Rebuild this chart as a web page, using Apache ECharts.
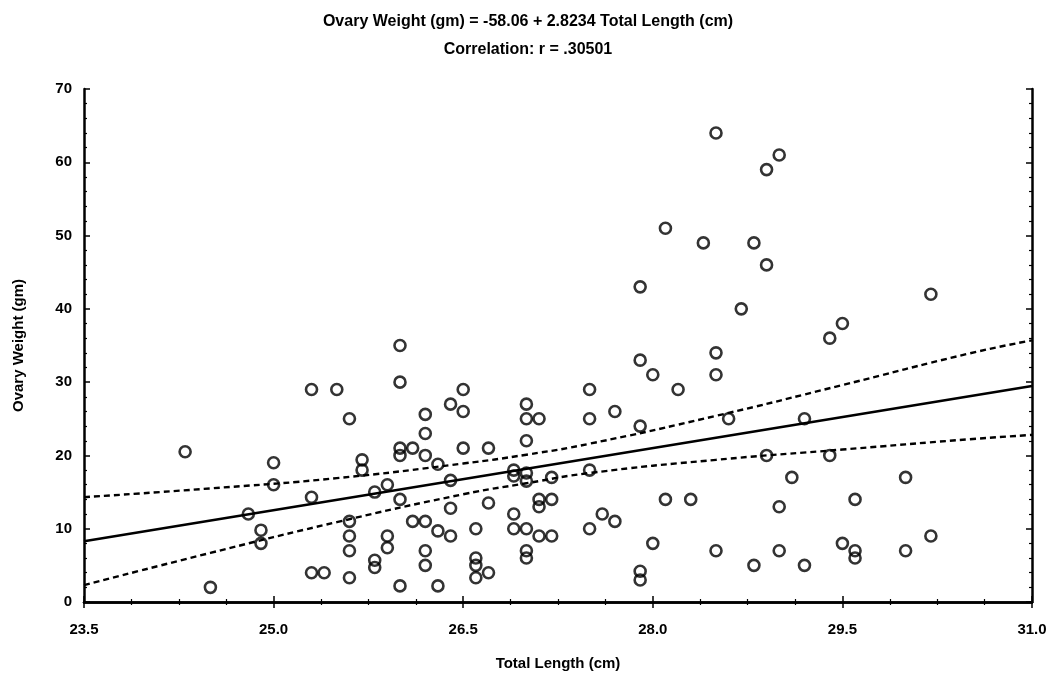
<!DOCTYPE html>
<html>
<head>
<meta charset="utf-8">
<script src="https://cdn.jsdelivr.net/npm/echarts@6/dist/echarts.min.js"></script>
<style>
  html, body { margin: 0; padding: 0; background: #fff; }
  #chart { width: 1056px; height: 679px; }
</style>
</head>
<body>
<div id="chart"></div>
<script>
// observed fish: total length (cm) and ovary weight (gm)
const totalLength = [
  24.3, 24.5, 24.8, 24.9, 24.9, 25.0, 25.0, 25.3, 25.3, 25.3, 25.4, 25.5,
  25.6, 25.6, 25.6, 25.6, 25.6, 25.7, 25.7, 25.8, 25.8, 25.8, 25.9, 25.9, 25.9,
  26.0, 26.0, 26.0, 26.0, 26.0, 26.0, 26.1, 26.1, 26.2, 26.2, 26.2, 26.2, 26.2, 26.2,
  26.3, 26.3, 26.3, 26.4, 26.4, 26.4, 26.4, 26.5, 26.5, 26.5,
  26.6, 26.6, 26.6, 26.6, 26.7, 26.7, 26.7, 26.9, 26.9, 26.9, 26.9,
  27.0, 27.0, 27.0, 27.0, 27.0, 27.0, 27.0, 27.0, 27.1, 27.1, 27.1, 27.1,
  27.2, 27.2, 27.2, 27.5, 27.5, 27.5, 27.5, 27.6, 27.7, 27.7,
  27.9, 27.9, 27.9, 27.9, 27.9, 28.0, 28.0, 28.1, 28.1, 28.2, 28.3, 28.4,
  28.5, 28.5, 28.5, 28.5, 28.6, 28.7, 28.8, 28.8, 28.9, 28.9, 28.9,
  29.0, 29.0, 29.0, 29.1, 29.2, 29.2, 29.4, 29.4, 29.5, 29.5,
  29.6, 29.6, 29.6, 30.0, 30.0, 30.2, 30.2
];
const ovaryWeight = [
  20.5, 2, 12, 9.8, 8, 19, 16, 29, 14.3, 4, 4, 29,
  25, 11, 9, 7, 3.3, 19.4, 18, 15, 5.7, 4.7, 9, 7.4, 16,
  35, 30, 21, 20, 14, 2.2, 21, 11, 25.6, 23, 20, 11, 7, 5,
  18.8, 9.7, 2.2, 27, 16.6, 12.8, 9, 29, 26, 21,
  10, 6, 5, 3.3, 21, 13.5, 4, 18, 17.2, 12, 10,
  27, 25, 22, 17.6, 16.5, 10, 7, 6, 25, 14, 13, 9,
  17, 14, 9, 29, 25, 18, 10, 12, 26, 11,
  43, 33, 24, 4.2, 3, 31, 8, 51, 14, 29, 14, 49,
  64, 34, 31, 7, 25, 40, 49, 5, 59, 46, 20,
  61, 13, 7, 17, 25, 5, 36, 20, 38, 8,
  14, 7, 6, 17, 7, 42, 9
];

// fitted line: Ovary Weight = -58.06 + 2.8234 * Total Length
const fitX = [23.5, 31.0];
const fitY = [8.29, 29.47];

// 95% confidence band
const bandX = [23.5, 24.5, 25.5, 26.5, 27.0, 27.5, 28.5, 29.5, 30.5, 31.0];
const bandUpper = [14.3, 15.5, 16.9, 18.9, 20.1, 21.6, 25.4, 29.6, 33.9, 35.7];
const bandLower = [2.3, 6.7, 10.9, 14.7, 16.2, 17.6, 19.4, 20.8, 22.2, 22.8];

const titleLines = [
  "Ovary Weight (gm) = -58.06 + 2.8234 Total Length (cm)",
  "Correlation: r = .30501"
];

const font = "'Liberation Sans', Arial, sans-serif";
const pair = (xs, ys) => xs.map((x, i) => [x, ys[i]]);

const chart = echarts.init(document.getElementById("chart"), null, { renderer: "canvas" });

const axisLine = { show: true, lineStyle: { color: "#000", width: 2.5 } };
const tickIn = { show: true, inside: true, length: 6, lineStyle: { color: "#000", width: 1.5 } };
const minorIn = { show: true, length: 3, lineStyle: { color: "#000", width: 1.2 } };

chart.setOption({
  animation: false,
  backgroundColor: "#fff",
  textStyle: { fontFamily: font, color: "#000" },
  title: [
    {
      left: "center",
      top: 9,
      text: titleLines[0],
      textStyle: { fontFamily: font, fontSize: 16, fontWeight: "bold", color: "#000" }
    },
    {
      left: "center",
      top: 37,
      text: titleLines[1],
      textStyle: { fontFamily: font, fontSize: 16, fontWeight: "bold", color: "#000" }
    }
  ],
  grid: { left: 84, right: 24, top: 89, bottom: 77 },
  xAxis: [
    {
      type: "value",
      min: 23.5,
      max: 31.0,
      interval: 1.5,
      name: "Total Length (cm)",
      nameLocation: "middle",
      nameGap: 54,
      nameTextStyle: { fontFamily: font, fontSize: 15, fontWeight: "bold", color: "#000" },
      axisLine: axisLine,
      axisTick: tickIn,
      minorTick: Object.assign({ splitNumber: 4 }, minorIn),
      splitLine: { show: false },
      axisLabel: {
        color: "#000",
        fontSize: 15,
        fontWeight: "bold",
        margin: 20,
        formatter: (v) => v.toFixed(1)
      }
    },
    {
      type: "value",
      position: "top",
      min: 23.5,
      max: 31.0,
      interval: 1.5,
      axisLine: axisLine,
      axisTick: tickIn,
      minorTick: Object.assign({ splitNumber: 4 }, minorIn),
      splitLine: { show: false },
      axisLabel: { show: false }
    }
  ],
  yAxis: [
    {
      type: "value",
      min: 0,
      max: 70,
      interval: 10,
      name: "Ovary Weight (gm)",
      nameLocation: "middle",
      nameGap: 58,
      nameTextStyle: { fontFamily: font, fontSize: 15, fontWeight: "bold", color: "#000" },
      axisLine: axisLine,
      axisTick: tickIn,
      minorTick: Object.assign({ splitNumber: 5 }, minorIn),
      splitLine: { show: false },
      axisLabel: { color: "#000", fontSize: 15, fontWeight: "bold", margin: 12 }
    },
    {
      type: "value",
      position: "right",
      min: 0,
      max: 70,
      interval: 10,
      axisLine: axisLine,
      axisTick: tickIn,
      minorTick: Object.assign({ splitNumber: 5 }, minorIn),
      splitLine: { show: false },
      axisLabel: { show: false }
    }
  ],
  series: [
    {
      name: "Upper 95%",
      type: "line",
      data: pair(bandX, bandUpper),
      smooth: true,
      showSymbol: false,
      lineStyle: { color: "#000", width: 2.4, type: [6, 4] },
      z: 3
    },
    {
      name: "Lower 95%",
      type: "line",
      data: pair(bandX, bandLower),
      smooth: true,
      showSymbol: false,
      lineStyle: { color: "#000", width: 2.4, type: [6, 4] },
      z: 3
    },
    {
      name: "Fit",
      type: "line",
      data: pair(fitX, fitY),
      showSymbol: false,
      lineStyle: { color: "#000", width: 2.6 },
      z: 3
    },
    {
      name: "Observed",
      type: "scatter",
      data: pair(totalLength, ovaryWeight),
      symbol: "circle",
      symbolSize: 11,
      itemStyle: { color: "rgba(255,255,255,0)", borderColor: "#000", borderWidth: 2.6 },
      z: 4
    }
  ]
});
</script>
</body>
</html>
